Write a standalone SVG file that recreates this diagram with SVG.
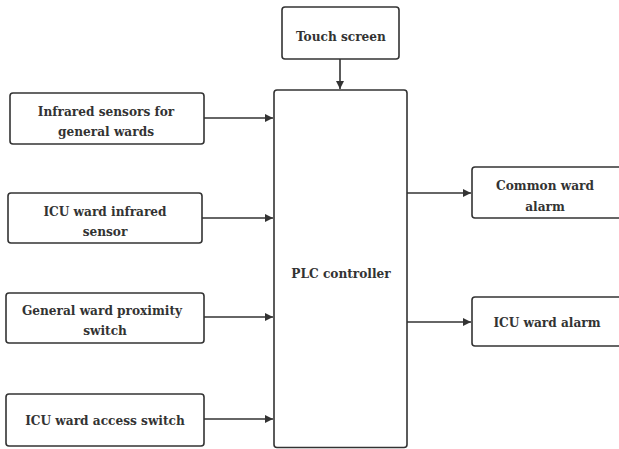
<svg xmlns="http://www.w3.org/2000/svg" width="619" height="449" viewBox="0 0 619 449">
<style>
.box{fill:#fff;stroke:#333;stroke-width:1.6}
.t{font-family:'DejaVu Serif Condensed','DejaVu Serif',serif;font-stretch:condensed;font-weight:bold;font-size:13.5px;fill:#333;text-anchor:middle}
.c{stroke:#333;stroke-width:1.6;fill:none;marker-end:url(#ah)}
</style>
<defs>
<marker id="ah" viewBox="0 0 10 10" refX="10" refY="5" markerWidth="12" markerHeight="8" markerUnits="userSpaceOnUse" orient="auto">
<path d="M0,0 L10,5 L0,10 z" fill="#333"/>
</marker>
</defs>
<rect width="619" height="449" fill="#fff"/>
<g id="connectors">
<line class="c" x1="340" y1="59" x2="340" y2="89"/>
<line class="c" x1="204" y1="118" x2="273" y2="118"/>
<line class="c" x1="202" y1="218" x2="273" y2="218"/>
<line class="c" x1="204" y1="317" x2="273" y2="317"/>
<line class="c" x1="204" y1="419" x2="273" y2="419"/>
<line class="c" x1="407" y1="193" x2="471" y2="193"/>
<line class="c" x1="407" y1="322" x2="471" y2="322"/>
</g>
<g id="touch"><rect class="box" x="282" y="7" width="117" height="52" rx="3"/><text class="t" x="341" y="41">Touch screen</text></g>
<g id="plc"><rect class="box" x="274" y="90" width="133" height="357.5" rx="3"/><text class="t" x="341" y="278">PLC controller</text></g>
<g id="infrared"><rect class="box" x="10" y="93" width="194" height="51" rx="3"/><text class="t" x="106" y="116">Infrared sensors for</text><text class="t" x="106" y="136">general wards</text></g>
<g id="icuinfrared"><rect class="box" x="8" y="193" width="194" height="50" rx="3"/><text class="t" x="105" y="216">ICU ward infrared</text><text class="t" x="105" y="236">sensor</text></g>
<g id="proximity"><rect class="box" x="6" y="293" width="198" height="50" rx="3"/><text class="t" x="102" y="315">General ward proximity</text><text class="t" x="105" y="335">switch</text></g>
<g id="access"><rect class="box" x="6" y="394" width="198" height="52" rx="3"/><text class="t" x="105" y="425">ICU ward access switch</text></g>
<g id="common"><rect class="box" x="472" y="167" width="152" height="51" rx="3"/><text class="t" x="545" y="190">Common ward</text><text class="t" x="545" y="211">alarm</text></g>
<g id="icualarm"><rect class="box" x="472" y="297" width="152" height="49" rx="3"/><text class="t" x="547" y="327">ICU ward alarm</text></g>
</svg>
